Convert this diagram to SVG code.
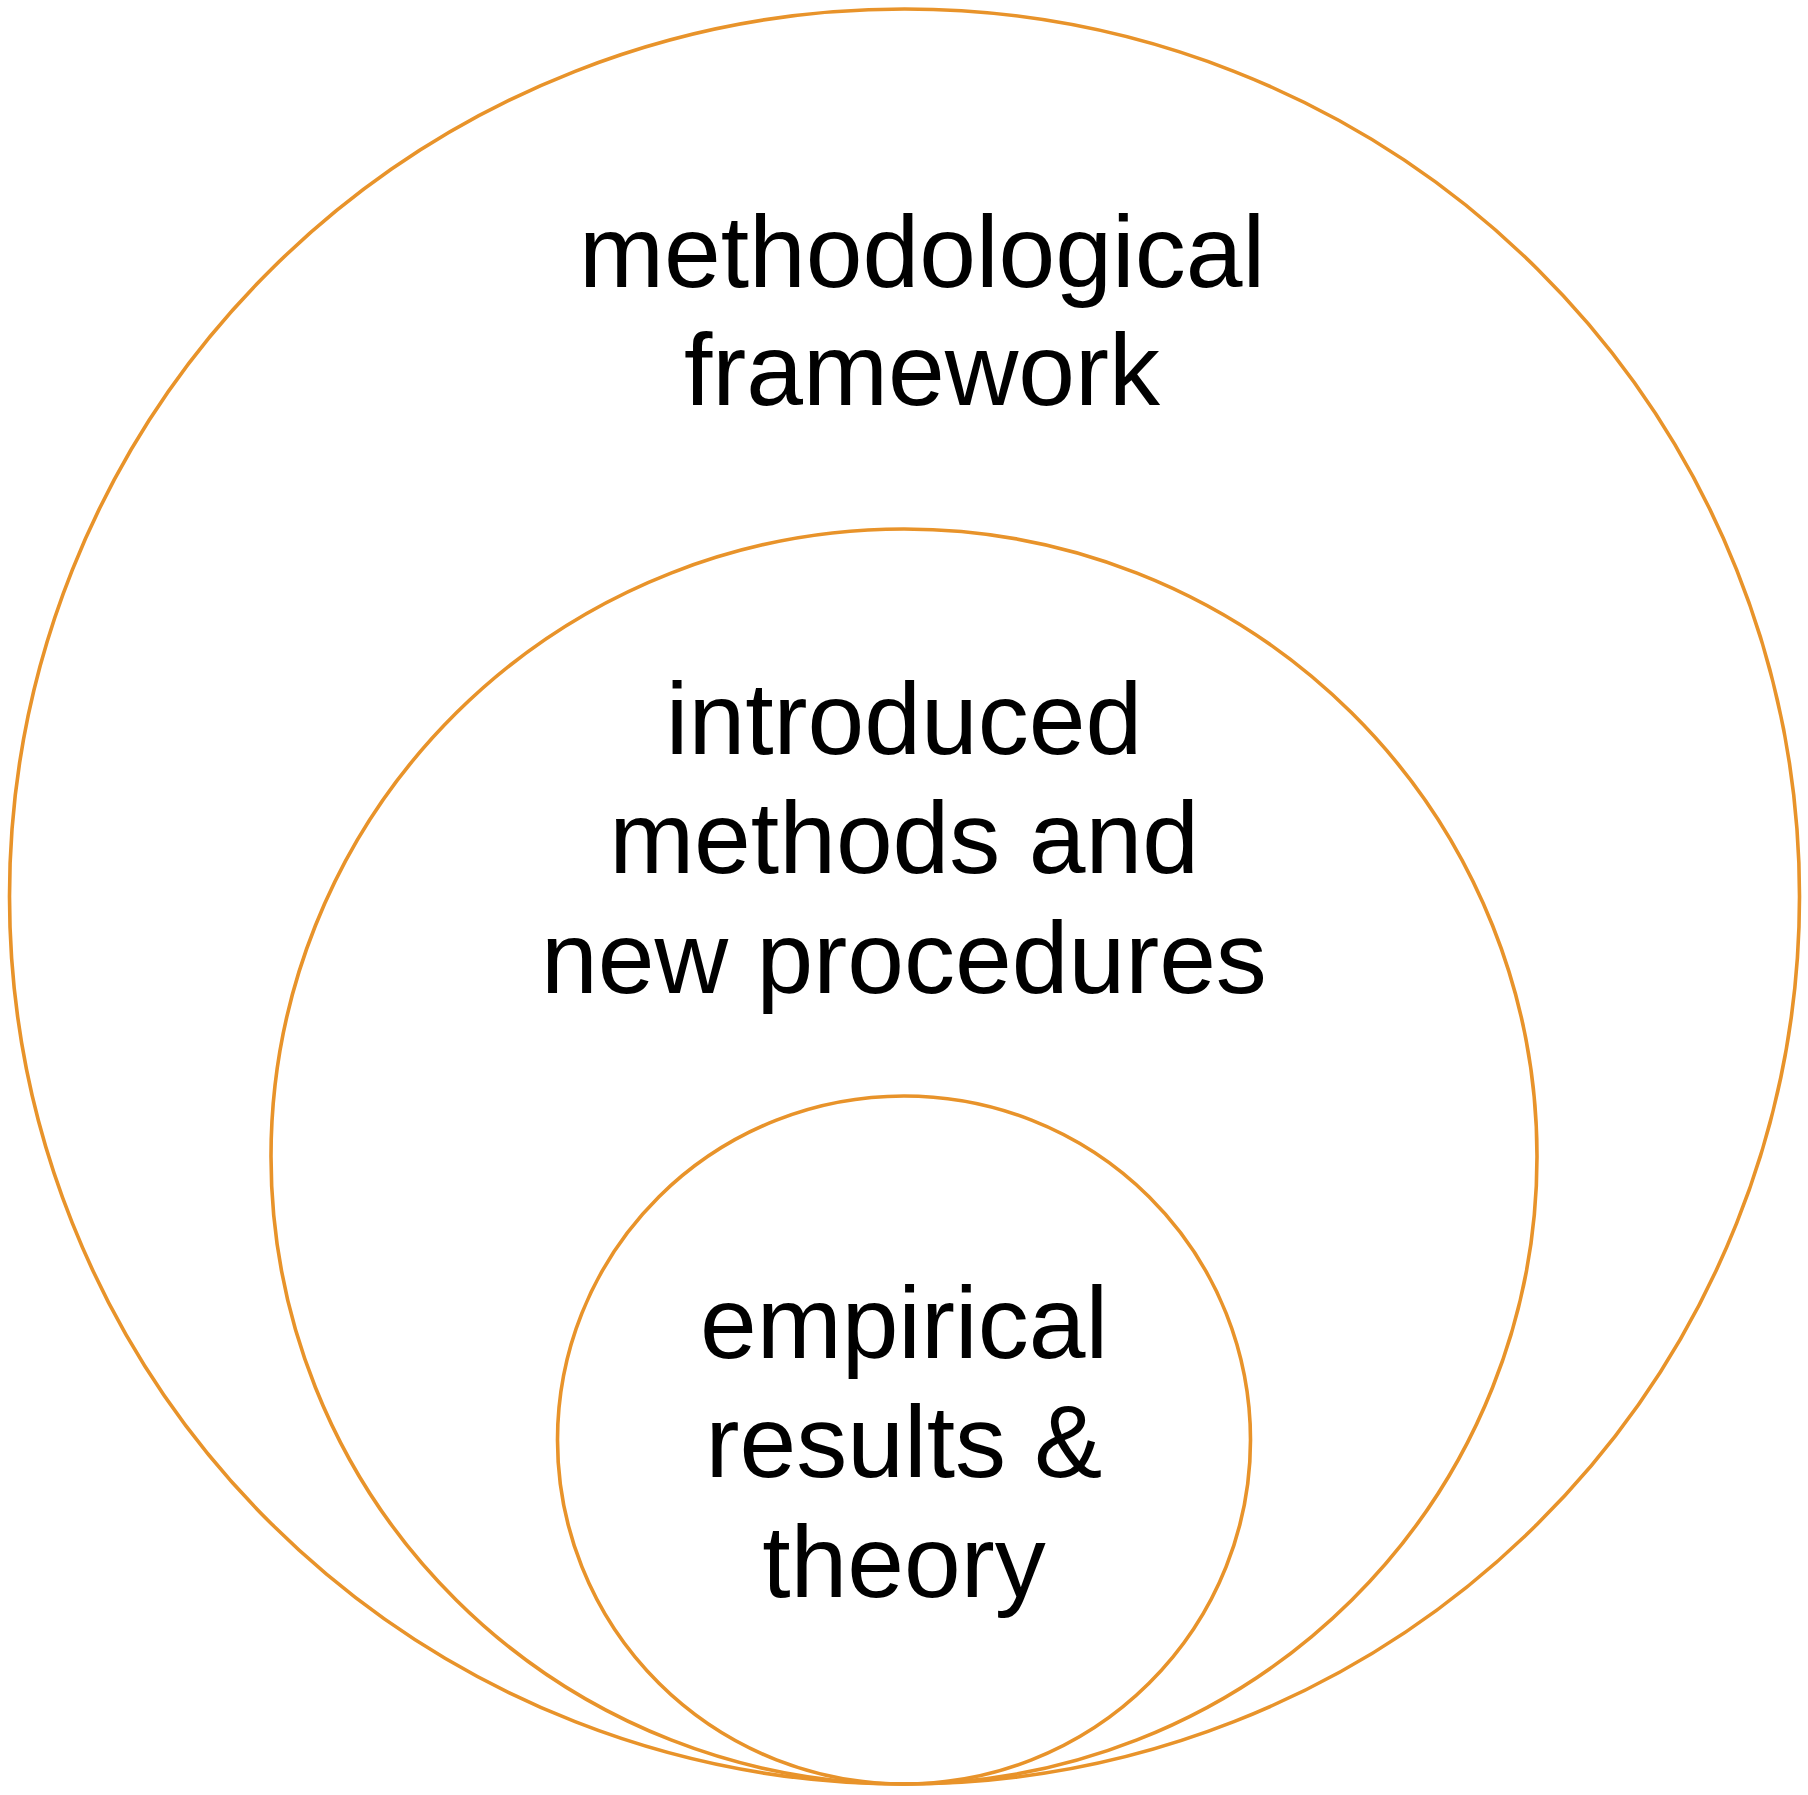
<svg xmlns="http://www.w3.org/2000/svg" width="1808" height="1795" viewBox="0 0 1808 1795">
<style>
.ring{fill:none;stroke:#E8932A;stroke-width:3.6}
.lbl{font-family:"Liberation Sans",Arial,Helvetica,sans-serif;font-size:102px;fill:#000;text-anchor:middle}
</style>
<rect width="1808" height="1795" fill="#fff"/>
<g id="outer">
<ellipse class="ring" cx="904.5" cy="896.5" rx="895" ry="887.5"/>
<text class="lbl" x="922" y="287">methodological</text>
<text class="lbl" x="922" y="405">framework</text>
</g>
<g id="middle">
<ellipse class="ring" cx="904" cy="1156.5" rx="633" ry="627.5"/>
<text class="lbl" x="904" y="754">introduced</text>
<text class="lbl" x="904" y="873">methods and</text>
<text class="lbl" x="904" y="993">new procedures</text>
</g>
<g id="inner">
<ellipse class="ring" cx="904" cy="1440" rx="346.5" ry="344"/>
<text class="lbl" x="904" y="1358">empirical</text>
<text class="lbl" x="904" y="1477">results &amp;</text>
<text class="lbl" x="904" y="1597">theory</text>
</g>
<g id="connectors"/>
</svg>
